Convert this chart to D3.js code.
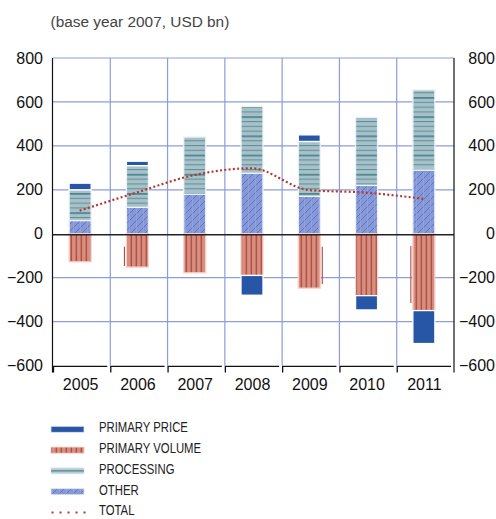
<!DOCTYPE html>
<html>
<head>
<meta charset="utf-8">
<script src="https://cdn.jsdelivr.net/npm/d3@7/dist/d3.min.js"></script>
<style>
  html, body { margin: 0; padding: 0; background: #fff; }
  svg { display: block; font-family: "Liberation Sans", Arial, Helvetica, sans-serif; }
</style>
</head>
<body>
<svg id="chart" width="496" height="519"></svg>
<script>
(function () {
// ---- data ----
const years = ["2005", "2006", "2007", "2008", "2009", "2010", "2011"];
const other = [60, 120, 180, 275, 170, 220, 290];
const processing = [140, 190, 260, 305, 250, 310, 365];
const primaryPrice = [30, 20, 0, -90, 30, -65, -150];
const primaryVolume = [-128, -152, -178, -190, -248, -282, -350];
const total = [105, 188, 267, 298, 199, 187, 159];
// thin leader marks beside some volume bars
const leaderYears = ["2006", "2009", "2011"];
const leaderFrom = [-59, -59, -56];
const leaderTo = [-147, -229, -315];
const leaderSide = [-1, 1, -1];
const yTicks = [-600, -400, -200, 0, 200, 400, 600, 800];
const legendLabels = ["PRIMARY PRICE", "PRIMARY VOLUME", "PROCESSING", "OTHER", "TOTAL"];
const title = "(base year 2007, USD bn)";

// ---- layout ----
const svg = d3.select("#chart");
const pLeft = 53, pRight = 454, pTop = 58, pBottom = 365.5;
const x = d3.scaleBand().domain(years).range([pLeft, pRight]).padding(0);
const y = d3.scaleLinear().domain([-600, 800]).range([pBottom, pTop]);
const barW = 22;
const barX = d => x(d) + x.bandwidth() / 2 - 1.5 - barW / 2;
const cx = d => x(d) + x.bandwidth() / 2 - 2;

const gridColor = "#8d9dd8";

// ---- patterns ----
const defs = svg.append("defs");
const pv = defs.append("pattern").attr("id", "pVolume").attr("patternUnits", "userSpaceOnUse")
  .attr("width", 5).attr("height", 10).attr("x", 0.7);
pv.append("rect").attr("width", 5).attr("height", 10).attr("fill", "#d68f81");
pv.append("rect").attr("x", 0).attr("width", 1.1).attr("height", 10).attr("fill", "#a63a2e");

const pp = defs.append("pattern").attr("id", "pProc").attr("patternUnits", "userSpaceOnUse")
  .attr("width", 8).attr("height", 19.2).attr("y", 1);
pp.append("rect").attr("width", 8).attr("height", 19.2).attr("fill", "#a8c1c8");
pp.append("rect").attr("y", 0).attr("width", 8).attr("height", 1.8).attr("fill", "#4f8893");
[4.8, 9.6, 14.4].forEach(v => pp.append("rect").attr("y", v).attr("width", 8).attr("height", 1.1).attr("fill", "#5e939e"));

const po = defs.append("pattern").attr("id", "pOther").attr("patternUnits", "userSpaceOnUse")
  .attr("width", 7).attr("height", 7);
po.append("rect").attr("width", 7).attr("height", 7).attr("fill", "#8598d7");
po.append("path").attr("d", "M-1,8 L8,-1 M-1,1 L1,-1 M6,8 L8,6").attr("stroke", "#5f72c2").attr("stroke-width", 0.9);
po.append("path").attr("d", "M3.5,0 V7").attr("stroke", "#97a7de").attr("stroke-width", 0.6);

// ---- title ----
svg.append("text").attr("x", 50.5).attr("y", 27).attr("font-size", 15.4).attr("fill", "#444").text(title);

// ---- grid ----
const g = svg.append("g");
g.selectAll("line.hg").data(yTicks.filter(t => t !== 0 && t !== -600)).join("line")
  .attr("x1", pLeft).attr("x2", pRight).attr("y1", d => y(d)).attr("y2", d => y(d))
  .attr("stroke", gridColor).attr("stroke-width", 1.2);
g.selectAll("line.vg").data(years.slice(1)).join("line")
  .attr("x1", d => x(d)).attr("x2", d => x(d)).attr("y1", pTop).attr("y2", pBottom)
  .attr("stroke", gridColor).attr("stroke-width", 1.2);

// ---- bars ----
const stacks = [];
years.forEach((yrName, i) => {
  let pos = 0, neg = 0;
  stacks.push({yr: yrName, fill: "url(#pOther)", y0: pos, y1: pos += other[i], stroke: "#eef1fa"});
  stacks.push({yr: yrName, fill: "url(#pProc)", y0: pos, y1: pos += processing[i], stroke: "#eef4f5"});
  stacks.push({yr: yrName, fill: "url(#pVolume)", y0: neg, y1: neg += primaryVolume[i], stroke: "#f4d4cc"});
  if (primaryPrice[i] > 0) stacks.push({yr: yrName, fill: "#2656a5", y0: pos, y1: pos += primaryPrice[i], stroke: "#ffffff"});
  else if (primaryPrice[i] < 0) stacks.push({yr: yrName, fill: "#2656a5", y0: neg, y1: neg += primaryPrice[i], stroke: "#ffffff"});
});
svg.append("g").selectAll("rect").data(stacks).join("rect")
  .attr("x", d => barX(d.yr))
  .attr("width", barW)
  .attr("y", d => y(Math.max(d.y0, d.y1)))
  .attr("height", d => Math.abs(y(d.y0) - y(d.y1)))
  .attr("fill", d => d.fill)
  .attr("stroke", d => d.stroke).attr("stroke-width", 1.3);

// leader marks
svg.append("g").selectAll("line").data(leaderYears).join("line")
  .attr("x1", (d, i) => leaderSide[i] < 0 ? barX(d) - 2 : barX(d) + barW + 2)
  .attr("x2", (d, i) => leaderSide[i] < 0 ? barX(d) - 2 : barX(d) + barW + 2)
  .attr("y1", (d, i) => y(leaderFrom[i])).attr("y2", (d, i) => y(leaderTo[i]))
  .attr("stroke", "#b04a3e").attr("stroke-width", 1.1);

// ---- zero line ----
svg.append("line").attr("x1", pLeft).attr("x2", pRight).attr("y1", y(0) + 1).attr("y2", y(0) + 1)
  .attr("stroke", "#222").attr("stroke-width", 1.4);

// ---- total line ----
const line = d3.line().x((d, i) => cx(years[i])).y(d => y(d)).curve(d3.curveMonotoneX);
svg.append("path").datum(total).attr("d", line).attr("fill", "none")
  .attr("stroke", "#b3392c").attr("stroke-width", 2.2).attr("stroke-dasharray", "2,2.3");

// ---- axes ----
svg.append("line").attr("x1", pLeft - 0.5).attr("x2", pLeft - 0.5).attr("y1", pTop).attr("y2", pBottom + 7)
  .attr("stroke", "#111").attr("stroke-width", 1.2);
svg.append("line").attr("x1", pRight).attr("x2", pRight).attr("y1", pTop).attr("y2", pBottom + 7)
  .attr("stroke", "#111").attr("stroke-width", 1.2);
svg.append("g").selectAll("path").data(years).join("path")
  .attr("d", d => `M${x(d) + 0.5},${pBottom + 7} V${pBottom + 0.8} H${x(d) + x.bandwidth() - 3}`)
  .attr("fill", "none").attr("stroke", "#111").attr("stroke-width", 1.3);

const axL = d3.axisLeft(y).tickValues(yTicks).tickSize(0).tickPadding(10);
const axR = d3.axisRight(y).tickValues(yTicks).tickSize(0).tickPadding(0);
const gl = svg.append("g").attr("transform", `translate(${pLeft},0)`).call(axL);
const gr = svg.append("g").attr("transform", `translate(${pRight},0)`).call(axR);
[gl, gr].forEach(a => {
  a.select(".domain").remove();
  a.selectAll("text").attr("font-size", 16).attr("fill", "#111")
    .attr("font-family", "'Liberation Sans', Arial, sans-serif");
});
gr.selectAll("text").attr("text-anchor", "end").attr("x", 495 - pRight);

svg.append("g").selectAll("text").data(years).join("text")
  .attr("x", d => x(d) + x.bandwidth() / 2 - 1).attr("y", 390)
  .attr("text-anchor", "middle").attr("font-size", 16).attr("fill", "#111").text(d => d);

// ---- legend ----
const lg = svg.append("g");
const rowY = i => 429.3 + i * 20.8;
const swFill = ["#2656a5", "url(#pVolume)", null, "url(#pOther)"];
legendLabels.forEach((lab, i) => {
  const cy = rowY(i);
  if (i === 0 || i === 1 || i === 3) {
    lg.append("rect").attr("x", 51).attr("y", cy - 3).attr("width", 33).attr("height", 6)
      .attr("fill", swFill[i]).attr("stroke", i === 1 ? "#f0c6bd" : "#dfe4f3").attr("stroke-width", 0.8);
  } else if (i === 2) {
    lg.append("rect").attr("x", 51).attr("y", cy - 3).attr("width", 33).attr("height", 6)
      .attr("fill", "#b4cbd1").attr("stroke", "#e3ecee").attr("stroke-width", 0.8);
    lg.append("line").attr("x1", 51).attr("x2", 84).attr("y1", cy).attr("y2", cy)
      .attr("stroke", "#4f8893").attr("stroke-width", 1.4);
  } else {
    lg.append("line").attr("x1", 51.5).attr("x2", 86).attr("y1", cy).attr("y2", cy)
      .attr("stroke", "#b3392c").attr("stroke-width", 2).attr("stroke-dasharray", "2,6");
  }
  lg.append("text").attr("transform", `translate(99,${cy + 2.8}) scale(0.755,1)`)
    .attr("font-size", 15).attr("fill", "#222").text(lab);
});
})();
</script>
</body>
</html>
